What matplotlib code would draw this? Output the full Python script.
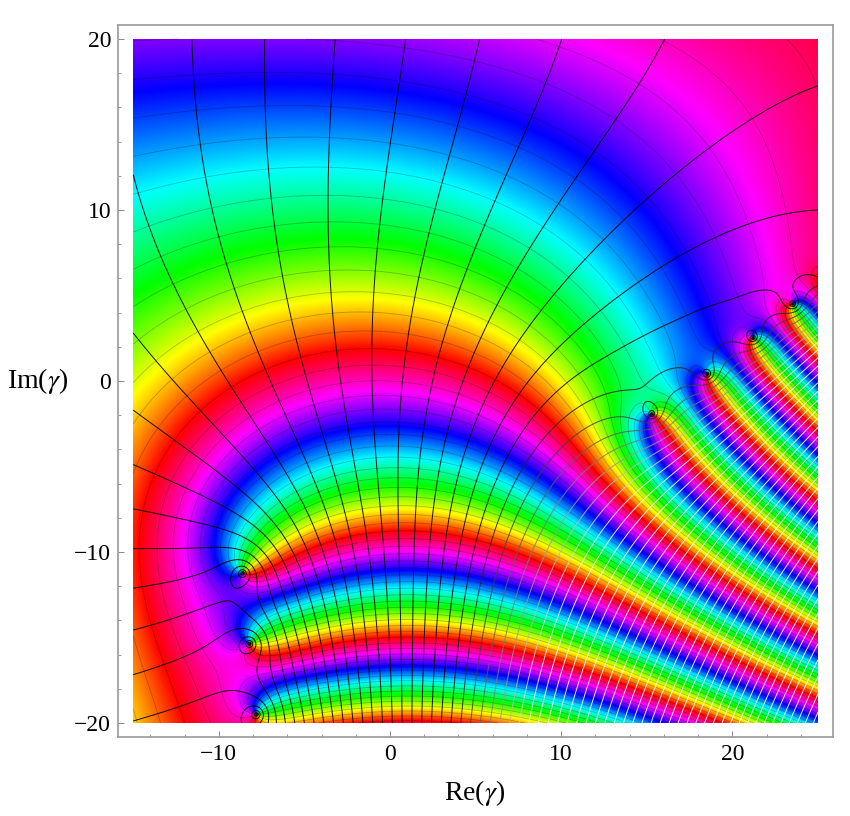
import numpy as np
import matplotlib
matplotlib.use("Agg")
import matplotlib.pyplot as plt
from matplotlib.colors import hsv_to_rgb
from matplotlib.ticker import MultipleLocator

# The reference is a phase portrait of an analytic function of gamma.  The field below
# is a model built from what was read off the picture: the zero positions and the hue
# readings along a few lines (a low-order correction is fitted to those readings).
LEFT_ZEROS = [-8.6 - 11.15j, -8.2 - 15.55j, -7.8 - 19.4j]
RIGHT_ZEROS = [15.3 - 1.93j, 18.55 + 0.41j, 21.2 + 2.53j, 23.55 + 4.5j]

COL0_X = 0.0
COL0_Y = [20, 17.6, 11.9, 8.0, 5.1, 2.5, -0.5, -2.6, -4.3, -6.0, -7.4, -8.6, -9.9, -10.9,
          -12.0, -13.0, -13.9, -14.7, -15.6, -16.5, -17.3, -18.2, -19.0, -19.8]
COL0_HUE = [265, 240, 180, 120, 60, 0, -60, -120, -180, -240, -300, -360, -420, -480,
            -540, -600, -660, -720, -780, -840, -900, -960, -1020, -1080]
LEFT_X = -15.0
LEFT_Y = [20, 16.6, 10.2, 4.9, -1.1, -3.8, -6.5, -10, -13.8, -17.8, -20]
LEFT_HUE = [275, 240, 180, 120, 60, 30, 0, -8, 0, 20, 40]
TOP_Y = 20.0
TOP_X = [-15, -10, -4.7, 3, 8.3, 12.2, 16.1, 21.4, 25]
TOP_HUE = [275, 262, 253, 268, 285, 300, 330, 355, 375]
BOTTOM_Y = -20.0
BOTTOM_X = [1.0, 8.5, 11.6, 13.9, 15.8, 18.0, 19.8, 21.3, 23.3, 24.4]
BOTTOM_HUE = [-1085, -1020, -960, -900, -840, -780, -720, -660, -600, -540]
RIGHT_X = 25.0
RIGHT_Y = [-19.6, -18.8, -18.0, -17.05, -16.1, -15.3, -14.3, -13.4, -12.7, -11.6, -10.8,
           -10.05, -9.3, -8.3, -7.55, -6.85, -5.75, -5.2, -4.2, -3.25, -2.65, -1.85,
           -1.1, -0.35, 0.55, 1.45, 2.05, 2.8]
RIGHT_HUE = [-480, -420, -360, -300, -240, -180, -120, -60, 0, 60, 120, 180, 240, 300, 360,
             420, 480, 540, 600, 660, 720, 780, 840, 900, 960, 1020, 1080, 1140]
ROW10_Y = -10.0
ROW10_X = [-15, -13.5, -11.7, -10.15, -9.1, -7.6, -6.2, -4.4, -1.7, 0.8, 3.4, 5.9, 9.2, 10.8,
           12, 13.4, 14.8, 16.4, 17.7, 19, 20.2, 21.5, 22.8, 23.5, 24.4]
ROW10_HUE = [-8, -20, -60, -120, -180, -240, -300, -360, -390, -420, -395, -360, -300, -240,
             -180, -120, -60, 0, 60, 120, 180, 240, 300, 360, 420]
ROW8_Y = 8.0
ROW8_X = [-15, -11.2, -7.3, -2.7, 0, 2.9, 7.4, 10.5, 13, 16.4, 19.2, 21.5, 24]
ROW8_HUE = [150, 135, 125, 118, 120, 125, 150, 180, 210, 240, 270, 300, 330]
COL20_X = 20.0
COL20_Y = [20, 14, 8, 5]
COL20_HUE = [350, 300, 255, 240]
COL12_X = -12.0
COL12_Y = [-12, -15, -18, -20]
COL12_HUE = [-40, -30, -10, 5]

X_TICKS = [-10, 0, 10, 20]
Y_TICKS = [-20, -10, 0, 10, 20]
X_LABEL = r"Re($\gamma$)"
Y_LABEL = r"Im($\gamma$)"


def loggamma(z, n=60):
    z = np.asarray(z, dtype=complex)
    s = np.zeros_like(z)
    w = z.copy()
    for _ in range(n):
        s += np.log(w + 1e-12)
        w = w + 1
    return (w - 0.5) * np.log(w) - w + 0.5 * np.log(2 * np.pi) + 1 / (12 * w) - 1 / (360 * w**3) - s


lz = np.array(LEFT_ZEROS)
rz = np.array(RIGHT_ZEROS)
A_l = np.vstack([lz, np.ones_like(lz)]).T
coef_l = np.linalg.lstsq(A_l, -np.arange(len(lz), dtype=complex), rcond=None)[0]
A_r = np.vstack([rz**2, rz, np.ones_like(rz)]).T
coef_r = np.linalg.lstsq(A_r, -np.arange(len(rz), dtype=complex), rcond=None)[0]


def base_log(g):
    u = coef_l[0] * g + coef_l[1]
    v = coef_r[0] * g**2 + coef_r[1] * g + coef_r[2]
    return -loggamma(u) - loggamma(v)


paths = [
    (np.full(len(COL0_Y), COL0_X) + 1j * np.array(COL0_Y), COL0_HUE),
    (np.full(len(LEFT_Y), LEFT_X) + 1j * np.array(LEFT_Y), LEFT_HUE),
    (np.array(TOP_X) + 1j * TOP_Y, TOP_HUE),
    (np.array(BOTTOM_X) + 1j * BOTTOM_Y, BOTTOM_HUE),
    (RIGHT_X + 1j * np.array(RIGHT_Y), RIGHT_HUE),
    (np.array(ROW10_X) + 1j * ROW10_Y, ROW10_HUE),
    (np.array(ROW8_X) + 1j * ROW8_Y, ROW8_HUE),
    (COL20_X + 1j * np.array(COL20_Y), COL20_HUE),
    (COL12_X + 1j * np.array(COL12_Y), COL12_HUE),
]
DEG = 3

rows, rhs = [], []
for g, hue in paths:
    g = np.asarray(g)
    h = np.radians(np.array(hue, float))
    for i in range(len(g) - 1):
        seg = np.linspace(g[i], g[i + 1], 40)
        ph = np.unwrap(np.imag(base_log(seg)))
        dm = ph[-1] - ph[0]
        t0, t1 = g[i] / 20, g[i + 1] / 20
        row = []
        for k in range(3):
            d = t1 ** (k + 1) - t0 ** (k + 1)
            row += [d.imag, d.real]
        rows.append(row)
        rhs.append((h[i + 1] - h[i]) - dm)
sol = np.linalg.lstsq(np.array(rows), np.array(rhs), rcond=None)[0]
coef = np.zeros(DEG, dtype=complex)
coef[:3] = [sol[2 * k] + 1j * sol[2 * k + 1] for k in range(3)]


def poly(g):
    t = g / 20
    return sum(coef[k] * t ** (k + 1) for k in range(DEG))


def wrap(a):
    return (a + np.pi) % (2 * np.pi) - np.pi


all_g = np.concatenate([np.asarray(g) for g, _ in paths])
all_h = np.radians(np.concatenate([np.array(h, float) for _, h in paths]))
c0 = np.angle(np.mean(np.exp(1j * (all_h - np.imag(base_log(all_g) + poly(all_g))))))
for it in range(8):
    r = wrap(all_h - np.imag(base_log(all_g) + poly(all_g)) - c0)
    t = all_g / 20
    cols = [np.ones_like(r)]
    for k in range(DEG):
        p = t ** (k + 1)
        cols += [p.imag, p.real]
    d = np.linalg.lstsq(np.array(cols).T, r, rcond=None)[0]
    c0 += d[0]
    coef = coef + np.array([d[1 + 2 * k] + 1j * d[2 + 2 * k] for k in range(DEG)])

nx, ny = 1000, 1000
xs = np.linspace(-15, 25, nx)
ys = np.linspace(-20, 20, ny)
XX, YY = np.meshgrid(xs, ys)
G = XX + 1j * YY
F = base_log(G) + poly(G)
phi = np.imag(F) + c0
mod = np.real(F)
ref = np.real(base_log(np.array([13 - 5j])) + poly(np.array([13 - 5j])))[0]
mod = np.maximum(mod - ref, -80)

hue = (phi / (2 * np.pi)) % 1.0
rgb = hsv_to_rgb(np.dstack([hue, np.ones_like(hue), np.ones_like(hue)]))

plt.rcParams["font.family"] = ["Liberation Serif"]
plt.rcParams["mathtext.fontset"] = "stix"
fig = plt.figure(figsize=(8.5, 8.16), dpi=100)
ax = fig.add_axes([118 / 850, 1 - 737 / 816, (833 - 118) / 850, (737 - 25) / 816])
ax.imshow(rgb, extent=[-15, 25, -20, 20], origin="lower", interpolation="bilinear", aspect="auto", zorder=1)

DELTA = 0.8
levels = np.arange(-80, 120, DELTA)
ax.contour(XX, YY, mod, levels=levels, cmap="gray", vmin=-4.2, vmax=2.8, linewidths=0.7, alpha=0.9, zorder=3)
ax.contour(XX, YY, np.sin(8 * phi), levels=[0], colors="k", linewidths=0.6, alpha=0.25, zorder=2)

ax.set_xlim(-15.89, 25.88)
ax.set_ylim(-20.82, 20.82)
ax.set_xticks(X_TICKS)
ax.set_yticks(Y_TICKS)
ax.xaxis.set_minor_locator(MultipleLocator(2))
ax.yaxis.set_minor_locator(MultipleLocator(2))
ax.tick_params(which="major", direction="in", length=4, width=0.7, color="#888888", labelsize=17, pad=5)
ax.tick_params(which="minor", direction="in", length=2, width=0.6, color="#888888")
ax.set_xticklabels(["\u221210", "0", "10", "20"])
ax.set_yticklabels(["\u221220", "\u221210", "0", "10", "20"])
for s in ax.spines.values():
    s.set_color("#999999")
    s.set_linewidth(1.2)
fig.text(475 / 850, 1 - 793 / 816, X_LABEL, ha="center", va="center", fontsize=20)
fig.text(38 / 850, 1 - 381 / 816, Y_LABEL, ha="center", va="center", fontsize=20)
fig.savefig("out.png", dpi=100)
